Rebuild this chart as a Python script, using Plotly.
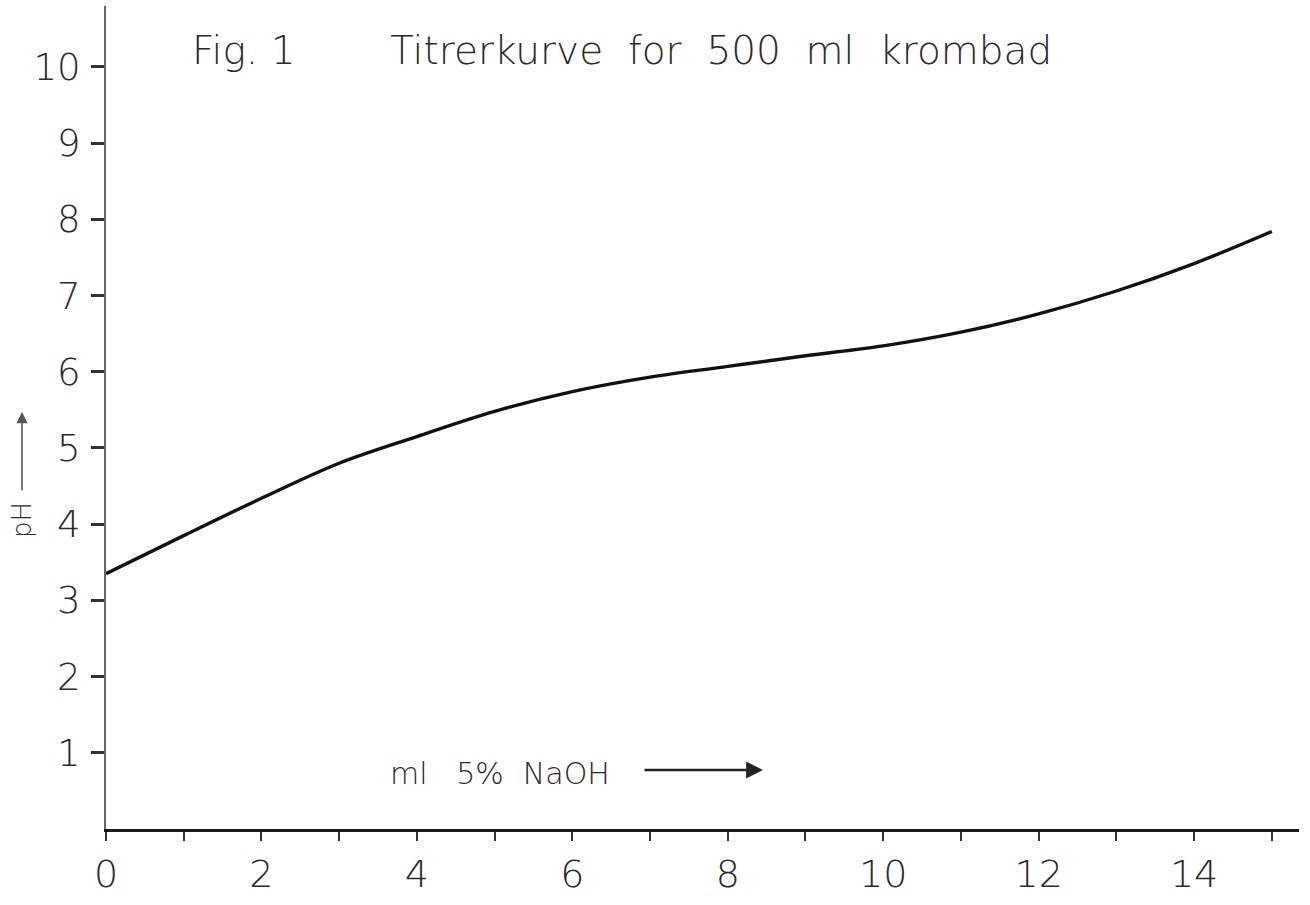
import plotly.graph_objects as go

# data
ml_naoh = [0, 1, 2, 3, 4, 5, 6, 7, 8, 9, 10, 11, 12, 13, 14, 15]
ph = [3.35, 3.85, 4.34, 4.80, 5.15, 5.48, 5.74, 5.93, 6.07, 6.21, 6.34, 6.52, 6.76, 7.06, 7.42, 7.84]

x_ticks = list(range(0, 16))
x_ticklabels = [str(v) if v % 2 == 0 else "" for v in x_ticks]
y_ticks = list(range(1, 11))
y_ticklabels = [str(v) for v in y_ticks]

title_fig = "Fig. 1"
title_text = "Titrerkurve  for  500  ml  krombad"
x_label = "ml   5%  NaOH"
y_label = "pH"

FONT = "DejaVu Sans"
INK = "#2a2a2a"

W, H = 1310, 905
L, R, T, B = 106, 11, 6, 76
PW, PH = W - L - R, H - T - B


def px(xp):
    return (xp - L) / PW


def py(yp):
    return (H - B - yp) / PH


fig = go.Figure()
fig.add_trace(go.Scatter(
    x=ml_naoh, y=ph, mode="lines",
    line=dict(color="#111111", width=3.4, shape="spline", smoothing=1.0),
    hoverinfo="x+y", showlegend=False,
))

fig.update_layout(
    width=W, height=H,
    margin=dict(l=L, r=R, t=T, b=B, autoexpand=False),
    paper_bgcolor="white", plot_bgcolor="white",
    font=dict(family=FONT, color=INK),
    xaxis=dict(
        range=[0, 15.35], showgrid=False, zeroline=False,
        showline=True, linecolor="#1a1a1a", linewidth=3,
        tickmode="array", tickvals=x_ticks, ticktext=x_ticklabels,
        ticks="outside", ticklen=9, tickwidth=2, tickcolor="#333333",
        tickfont=dict(family=FONT, size=38, color=INK, weight=300),
    ),
    yaxis=dict(
        range=[0, 10.8], showgrid=False, zeroline=False,
        showline=True, linecolor="#666666", linewidth=2,
        tickmode="array", tickvals=y_ticks, ticktext=y_ticklabels,
        ticks="outside", ticklen=13, tickwidth=2.5, tickcolor="#333333",
        ticklabelstandoff=3,
        tickfont=dict(family=FONT, size=37, color=INK, weight=300),
    ),
)

ann_list = [
    dict(text=title_fig, xref="paper", yref="paper",
         x=px(190), y=py(50), xanchor="left", yanchor="middle",
         showarrow=False, font=dict(family=FONT, size=39, color=INK, weight=300)),
    dict(text=title_text, xref="paper", yref="paper",
         x=px(388), y=py(50), xanchor="left", yanchor="middle",
         showarrow=False, font=dict(family=FONT, size=39, color=INK, weight=300)),
    dict(text=x_label, xref="paper", yref="paper",
         x=px(388), y=py(773), xanchor="left", yanchor="middle",
         showarrow=False, font=dict(family=FONT, size=30, color=INK, weight=300)),
    # arrow after x label
    dict(text="", xref="paper", yref="paper",
         x=px(763), y=py(770), ax=-120, ay=0, axref="pixel", ayref="pixel",
         showarrow=True, arrowhead=2, arrowsize=1.3, arrowwidth=2.6, arrowcolor="#222222"),
    dict(text=y_label, xref="paper", yref="paper",
         x=px(22), y=py(520), xanchor="center", yanchor="middle",
         textangle=-90, showarrow=False, font=dict(family=FONT, size=26, color=INK, weight=300)),
    # arrow above y label
    dict(text="", xref="paper", yref="paper",
         x=px(22), y=py(412), ax=0, ay=80, axref="pixel", ayref="pixel",
         showarrow=True, arrowhead=2, arrowsize=1.4, arrowwidth=1.6, arrowcolor="#555555"),
]
fig.update_layout(annotations=ann_list)

fig.write_html(
    "out.html",
    config={"displayModeBar": False},
    post_script="document.body.style.margin='0';document.body.style.padding='0';",
)
